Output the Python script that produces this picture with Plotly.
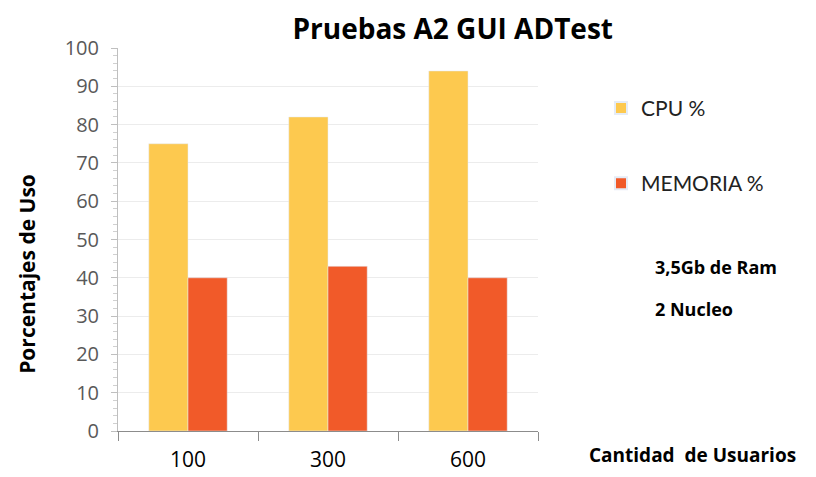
import plotly.graph_objects as go

usuarios = ["100", "300", "600"]
cpu = [75, 82, 94]
memoria = [40, 43, 40]

fig = go.Figure()
fig.add_trace(go.Bar(name="CPU %", x=usuarios, y=cpu, marker_color="#FDC94F", legendgroup="cpu"))
fig.add_trace(go.Bar(name="MEMORIA %", x=usuarios, y=memoria, marker_color="#F15A29", legendgroup="mem"))

fig.update_layout(
    width=816,
    height=477,
    barmode="group",
    bargap=0.44,
    bargroupgap=0,
    plot_bgcolor="white",
    paper_bgcolor="white",
    margin=dict(l=110, r=286, t=40, b=52),
    title=dict(
        text="<b>Pruebas A2 GUI ADTest</b>",
        x=0.545, xanchor="center", y=0.955, yanchor="middle",
        font=dict(family="Open Sans", size=28, color="black"),
    ),
    legend=dict(
        x=1.15, y=0.896, xanchor="left", yanchor="top",
        font=dict(family="Lato", size=21, color="#222"),
        tracegroupgap=45, itemsizing="constant",
        traceorder="grouped",
    ),
    showlegend=True,
)

fig.update_yaxes(
    range=[0, 100], dtick=10,
    showgrid=True, gridcolor="#ececec", gridwidth=1,
    showline=True, linecolor="#bfbfbf",
    ticks="outside", ticklen=6, tickcolor="#bfbfbf",
    minor=dict(dtick=2, ticks="outside", ticklen=4, tickcolor="#d0d0d0", showgrid=False),
    tickfont=dict(family="Open Sans", size=20, color="#595959"),
    ticklabelstandoff=8,
    zeroline=False,
)
fig.update_xaxes(
    showline=True, linecolor="#8c8c8c",
    ticks="outside", ticklen=9, tickcolor="#8c8c8c", tickson="boundaries",
    tickfont=dict(family="Open Sans", size=21, color="black"),
    ticklabelstandoff=10,
)

fig.add_annotation(
    text="<b>Porcentajes de Uso</b>", textangle=-90,
    xref="paper", yref="paper", x=-0.217, y=0.41, xanchor="center", yanchor="middle",
    showarrow=False, font=dict(family="Open Sans", size=21, color="black"),
)
fig.add_annotation(
    text="<b>Cantidad  de Usuarios</b>",
    xref="paper", yref="paper", x=1.117, y=-0.062, xanchor="left", yanchor="middle",
    showarrow=False, font=dict(family="Open Sans", size=19, color="black"),
)
fig.add_annotation(
    text="<b>3,5Gb de Ram</b>",
    xref="paper", yref="paper", x=1.274, y=0.429, xanchor="left", yanchor="middle",
    showarrow=False, font=dict(family="Open Sans", size=18, color="black"),
)
fig.add_annotation(
    text="<b>2 Nucleo</b>",
    xref="paper", yref="paper", x=1.274, y=0.319, xanchor="left", yanchor="middle",
    showarrow=False, font=dict(family="Open Sans", size=18, color="black"),
)

fig.write_html("out.html")
